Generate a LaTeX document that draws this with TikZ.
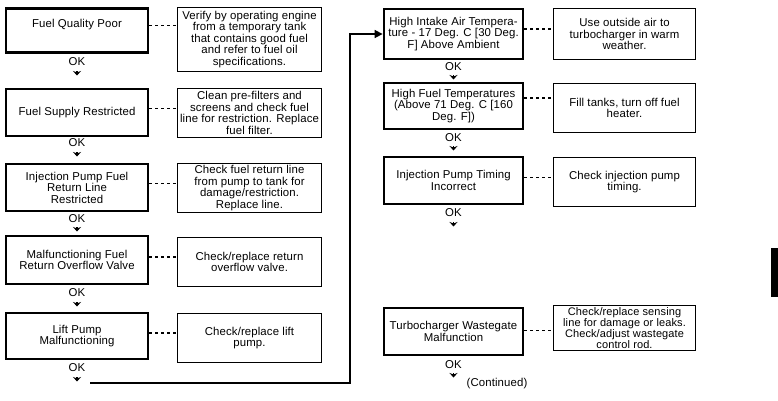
\documentclass[tikz,border=0pt]{standalone}
\usepackage{fontspec}
\setmainfont{Liberation Sans}[LetterSpace=1]
\usetikzlibrary{arrows.meta,calc}
\newcommand{\fs}{\fontsize{11.4}{11.5}\selectfont}
\newcommand{\fss}{\fontsize{11}{10.2}\selectfont}
\tikzset{
  prob/.style={draw, line width=2.8pt, inner sep=0pt, align=center, font=\fs, minimum width=#1},
  prob/.default=142pt,
  fix/.style={draw, line width=1.2pt, inner sep=0pt, align=center, font=\fs, minimum width=#1},
  fix/.default=144pt,
  conn/.style={line width=1.1pt, dash pattern=on 3pt off 3pt},
  oklbl/.style={font=\fs, inner sep=0pt},
  okarr/.style={-{Stealth[length=4.5pt,width=8pt]}, line width=1.6pt},
  loopline/.style={line width=1.6pt, -{Triangle[length=8pt,width=8pt]}},
  contd/.style={font=\fs, inner sep=0pt},
  tab/.style={fill=black, draw=none}
}
\begin{document}
\begin{tikzpicture}[x=1pt,y=-1pt]
\useasboundingbox (0,0) rectangle (778,400);
% left column: problems
\node[prob, minimum height=44pt] (L1) at (77,30.5) {Fuel Quality Poor\\[3pt]};
\node[prob, minimum height=47pt] (L2) at (77,112.5) {Fuel Supply Restricted};
\node[prob, minimum height=47pt] (L3) at (77,187.5) {Injection Pump Fuel\\Return Line\\Restricted};
\node[prob, minimum height=48pt] (L4) at (77,260) {Malfunctioning Fuel\\Return Overflow Valve};
\node[prob, minimum height=46pt] (L5) at (77,336) {Lift Pump\\Malfunctioning};
% left column: fixes
\node[fix, minimum height=64pt] (R1) at (249.5,39.5) {Verify by operating engine\\from a temporary tank\\that contains good fuel\\and refer to fuel oil\\specifications.};
\node[fix, minimum height=49pt] (R2) at (249.5,113) {Clean pre-filters and\\screens and check fuel\\line for restriction. Replace\\fuel filter.};
\node[fix, minimum height=49pt] (R3) at (249.5,188) {Check fuel return line\\from pump to tank for\\damage/restriction.\\Replace line.};
\node[fix, minimum height=49pt] (R4) at (249.5,262) {Check/replace return\\overflow valve.};
\node[fix, minimum height=49pt] (R5) at (249.5,338) {Check/replace lift\\pump.};
% right column: problems
\node[prob=139pt, minimum height=50pt] (RB1) at (453.5,34) {High Intake Air Tempera-\\ture - 17 Deg. C [30 Deg.\\F] Above Ambient};
\node[prob=139pt, minimum height=46pt] (RB2) at (453.5,106) {High Fuel Temperatures\\(Above 71 Deg. C [160\\Deg. F])};
\node[prob=139pt, minimum height=47pt] (RB3) at (453.5,180.5) {Injection Pump Timing\\Incorrect};
\node[prob=139pt, minimum height=47pt] (RB4) at (453.5,331.5) {Turbocharger Wastegate\\Malfunction};
% right column: fixes
\node[fix=142pt, minimum height=51pt] (Q1) at (624.5,34) {Use outside air to\\turbocharger in warm\\weather.};
\node[fix=142pt, minimum height=49pt] (Q2) at (624.5,108) {Fill tanks, turn off fuel\\heater.};
\node[fix=142pt, minimum height=49pt] (Q3) at (624.5,182) {Check injection pump\\timing.};
\node[fix=142pt, minimum height=45pt, font=\fss] (Q4) at (624.5,328) {Check/replace sensing\\line for damage or leaks.\\Check/adjust wastegate\\control rod.};
% dashed connectors
\draw[conn] ([yshift=5pt]L1.east) -- ([yshift=5pt]L1.east -| R1.west);
\draw[conn] ([yshift=4pt]L2.east) -- ([yshift=4pt]L2.east -| R2.west);
\draw[conn] ([yshift=4pt]L3.east) -- ([yshift=4pt]L3.east -| R3.west);
\draw[conn] ([yshift=3pt]L4.east) -- ([yshift=3pt]L4.east -| R4.west);
\draw[conn] ([yshift=3pt]L5.east) -- ([yshift=3pt]L5.east -| R5.west);
\draw[conn] ([yshift=5pt]RB1.east) -- ([yshift=5pt]RB1.east -| Q1.west);
\draw[conn] ([yshift=8pt]RB2.east) -- ([yshift=8pt]RB2.east -| Q2.west);
\draw[conn] ([yshift=3pt]RB3.east) -- ([yshift=3pt]RB3.east -| Q3.west);
\draw[conn] ([yshift=1pt]RB4.east) -- ([yshift=1pt]RB4.east -| Q4.west);
% OK labels and arrows, left
\node[oklbl] (ok1) at (77,62) {OK};
\node[oklbl] (ok2) at (77,143) {OK};
\node[oklbl] (ok3) at (77,219) {OK};
\node[oklbl] (ok4) at (77,293) {OK};
\node[oklbl] (ok5) at (77,368) {OK};
\coordinate (a1) at (77,71);
\coordinate (a2) at (77,152);
\coordinate (a3) at (77,227);
\coordinate (a4) at (77,302);
\coordinate (a5) at (77,377);
\foreach \a in {a1,a2,a3,a4,a5} \draw[okarr] (\a) -- ++(0,4.5);
% OK labels and arrows, right
\node[oklbl] (ok6) at (453.5,67) {OK};
\node[oklbl] (ok7) at (453.5,138) {OK};
\node[oklbl] (ok8) at (453.5,213) {OK};
\node[oklbl] (ok9) at (453.5,365) {OK};
\coordinate (a6) at (453.5,75);
\coordinate (a7) at (453.5,146);
\coordinate (a8) at (453.5,222);
\coordinate (a9) at (453.5,373);
\foreach \a in {a6,a7,a8,a9} \draw[okarr] (\a) -- ++(0,4.5);
\node[contd] (cont) at (497,384) {(Continued)};
% loop back connector
\coordinate (lp) at (90,383);
\coordinate (lc) at (350,383);
\draw[loopline] (lp) -- (lc) |- (RB1.west);
% page tab
\path[tab] (771,248) rectangle (778,297);
\end{tikzpicture}
\end{document}
